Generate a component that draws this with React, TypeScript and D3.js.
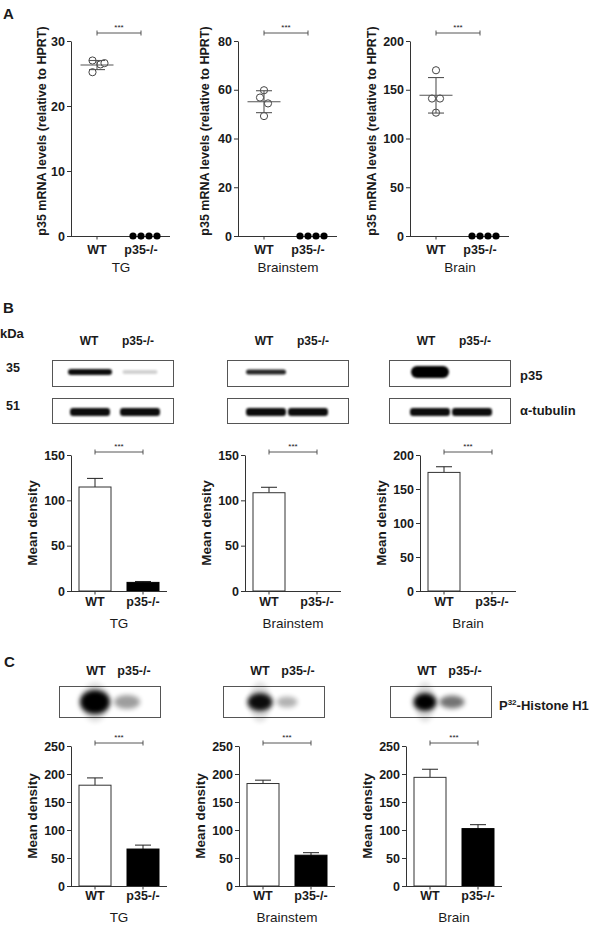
import React, { useEffect, useRef } from "react";
import * as d3 from "d3";

const groups = ["WT", "p35-/-"];
const tissues = ["TG", "Brainstem", "Brain"];

// Panel A: p35 mRNA (relative to HPRT), one value per animal
const mrnaWT = [
  [27.0, 26.4, 26.6, 25.2],
  [59.8, 56.8, 54.4, 49.2],
  [170, 141, 141, 126.5],
];
const mrnaKO = [
  [0, 0, 0, 0],
  [0, 0, 0, 0],
  [0, 0, 0, 0],
];
const mrnaMean = [26.3, 55.1, 144.3];
const mrnaSD = [0.7, 4.5, 18.2];
const mrnaMax = [30, 80, 200];
const mrnaTicks = [
  [0, 10, 20, 30],
  [0, 20, 40, 60, 80],
  [0, 50, 100, 150, 200],
];

// Panel B: p35 western blot densitometry (mean + SEM), [WT, p35-/-]
const p35Mean = [
  [114.7, 9.5],
  [108.4, 0],
  [174.4, 0],
];
const p35Err = [
  [9.5, 1],
  [6, 0],
  [8.3, 0],
];
const p35Max = [150, 150, 200];
const p35Ticks = [
  [0, 50, 100, 150],
  [0, 50, 100, 150],
  [0, 50, 100, 150, 200],
];

// Panel C: kinase assay densitometry (mean + SEM), [WT, p35-/-]
const kinaseMean = [
  [180, 66],
  [183, 55],
  [194, 102.5],
];
const kinaseErr = [
  [13, 7],
  [6, 4.5],
  [14.5, 7],
];
const kinaseMax = [250, 250, 250];
const kinaseTicks = [0, 50, 100, 150, 200, 250];

// blot band intensities (0..1), [WT, p35-/-]
const p35Band = [
  [0.95, 0.18],
  [0.85, 0],
  [1, 0],
];
const tubulinBand = [
  [1, 1],
  [1, 1],
  [1, 1],
];
const histoneSpot = [
  [1, 0.38],
  [0.95, 0.3],
  [1, 0.55],
];

const FONT = "'Liberation Sans', Arial, Helvetica, sans-serif";
const INK = "#1a1a1a";

function yAxis(svg: any, y: any, ticks: number[], x: number) {
  const ax = svg
    .append("g")
    .attr("transform", `translate(${x},0)`)
    .call(d3.axisLeft(y).tickValues(ticks).tickSize(4).tickPadding(2).tickSizeOuter(0).tickFormat(d3.format("d")));
  ax.attr("font-family", FONT).attr("font-size", 12.5).attr("font-weight", "bold");
  ax.selectAll("path,line").attr("stroke", "#333");
  ax.selectAll("text").attr("fill", INK);
}

function text(svg: any, x: number, y: number, s: string, size: number, bold = true, anchor = "middle") {
  return svg
    .append("text")
    .attr("x", x)
    .attr("y", y)
    .attr("text-anchor", anchor)
    .attr("font-family", FONT)
    .attr("font-size", size)
    .attr("font-weight", bold ? "bold" : "normal")
    .attr("fill", INK)
    .text(s);
}

function yLabel(svg: any, cx: number, cy: number, s: string, size: number) {
  svg
    .append("text")
    .attr("transform", `translate(${cx},${cy}) rotate(-90)`)
    .attr("dy", "0.35em")
    .attr("text-anchor", "middle")
    .attr("font-family", FONT)
    .attr("font-size", size)
    .attr("font-weight", "bold")
    .attr("fill", INK)
    .text(s);
}

function bracket(svg: any, x1: number, x2: number, y: number) {
  const g = svg.append("g").attr("stroke", "#444").attr("stroke-width", 0.9);
  g.append("line").attr("x1", x1).attr("x2", x2).attr("y1", y).attr("y2", y);
  g.append("line").attr("x1", x1).attr("x2", x1).attr("y1", y - 2.5).attr("y2", y + 2.5);
  g.append("line").attr("x1", x2).attr("x2", x2).attr("y1", y - 2.5).attr("y2", y + 2.5);
  text(svg, (x1 + x2) / 2, y - 3, "***", 8, false);
}

function barChart(
  svg: any,
  x0: number,
  yBottom: number,
  yTop: number,
  max: number,
  ticks: number[],
  means: number[],
  errs: number[],
  labelY: number,
  tissueY: number,
  tissue: string
) {
  const y = d3.scaleLinear().domain([0, max]).range([yBottom, yTop]);
  const x = d3.scaleBand().domain(groups).range([x0, x0 + 96]).paddingInner(1 / 3).paddingOuter(1 / 6);
  const bw = x.bandwidth();
  const rows = groups.map((g, i) => ({ g, v: means[i], e: errs[i] }));

  // error bars (upward only)
  rows.forEach((d) => {
    if (d.v <= 0) return;
    const cx = (x(d.g) as number) + bw / 2;
    svg.append("line").attr("x1", cx).attr("x2", cx).attr("y1", y(d.v)).attr("y2", y(d.v + d.e)).attr("stroke", "#222").attr("stroke-width", 1);
    svg.append("line").attr("x1", cx - 8).attr("x2", cx + 8).attr("y1", y(d.v + d.e)).attr("y2", y(d.v + d.e)).attr("stroke", "#222").attr("stroke-width", 1);
  });

  svg
    .selectAll(null)
    .data(rows.filter((d) => d.v > 0))
    .enter()
    .append("rect")
    .attr("x", (d: any) => x(d.g) as number)
    .attr("y", (d: any) => y(d.v))
    .attr("width", bw)
    .attr("height", (d: any) => y(0) - y(d.v))
    .attr("fill", (d: any) => (d.g === "WT" ? "#fff" : "#000"))
    .attr("stroke", (d: any) => (d.g === "WT" ? "#333" : "#000"))
    .attr("stroke-width", 1);

  yAxis(svg, y, ticks, x0);
  svg.append("line").attr("x1", x0).attr("x2", x0 + 96).attr("y1", y(0) + 0.5).attr("y2", y(0) + 0.5).attr("stroke", "#333");
  groups.forEach((g) => {
    const cx = (x(g) as number) + bw / 2;
    svg.append("line").attr("x1", cx).attr("x2", cx).attr("y1", y(0)).attr("y2", y(0) + 3.5).attr("stroke", "#333");
    text(svg, cx, labelY, g, 12.5);
  });
  bracket(svg, (x("WT") as number) + bw / 2, (x("p35-/-") as number) + bw / 2, yTop - 3);
  text(svg, x0 + 48, tissueY, tissue, 13.5, false);
  yLabel(svg, x0 - 39, (yBottom + yTop) / 2, "Mean density", 13.5);
}

function createFigure(node: SVGSVGElement) {
  const svg = d3.select(node);
  svg.selectAll("*").remove();

  const defs = svg.append("defs");
  defs.append("filter").attr("id", "band").attr("x", "-30%").attr("y", "-100%").attr("width", "160%").attr("height", "300%")
    .append("feGaussianBlur").attr("stdDeviation", 1.3);
  defs.append("filter").attr("id", "spot").attr("x", "-60%").attr("y", "-80%").attr("width", "220%").attr("height", "260%")
    .append("feGaussianBlur").attr("stdDeviation", 2.6);

  // ---------- Panel A ----------
  text(svg, 3, 19, "A", 15, true, "start");
  const aX0 = [71, 238, 410];
  const aLabelX = [42, 205, 372];
  const wtJitter = [
    [-4.5, 3.5, 7.5, -4.5],
    [0, -4, 4, 0],
    [0, -4, 4, 0],
  ];
  const koJitter = [-8, 0, 8, 16];
  tissues.forEach((tissue, i) => {
    const x0 = aX0[i];
    const y = d3.scaleLinear().domain([0, mrnaMax[i]]).range([236, 41]);
    const x = d3.scalePoint().domain(groups).range([x0 + 26, x0 + 70]);
    const wx = x("WT") as number;
    const kx = x("p35-/-") as number;

    svg.append("line").attr("x1", x0).attr("x2", x0 + 99).attr("y1", y(0) + 0.5).attr("y2", y(0) + 0.5).attr("stroke", "#333");
    groups.forEach((g) => {
      svg.append("line").attr("x1", x(g) as number).attr("x2", x(g) as number).attr("y1", y(0)).attr("y2", y(0) + 3.5).attr("stroke", "#333");
      text(svg, x(g) as number, 254, g, 12.5);
    });
    yAxis(svg, y, mrnaTicks[i], x0);

    svg
      .selectAll(null)
      .data(mrnaWT[i])
      .enter()
      .append("circle")
      .attr("cx", (_d: number, j: number) => wx + wtJitter[i][j])
      .attr("cy", (d: number) => y(d))
      .attr("r", 3.6)
      .attr("fill", "#fff")
      .attr("stroke", "#444")
      .attr("stroke-width", 1);

    svg
      .selectAll(null)
      .data(mrnaKO[i])
      .enter()
      .append("circle")
      .attr("cx", (_d: number, j: number) => kx + koJitter[j])
      .attr("cy", (d: number) => y(d))
      .attr("r", 3.6)
      .attr("fill", "#000");

    const m = mrnaMean[i];
    const sd = mrnaSD[i];
    const ln = svg.append("g").attr("stroke", "#555").attr("stroke-width", 1.1);
    ln.append("line").attr("x1", wx - 16.5).attr("x2", wx + 16.5).attr("y1", y(m)).attr("y2", y(m));
    ln.append("line").attr("x1", wx).attr("x2", wx).attr("y1", y(m - sd)).attr("y2", y(m + sd));
    ln.append("line").attr("x1", wx - 8).attr("x2", wx + 8).attr("y1", y(m + sd)).attr("y2", y(m + sd));
    ln.append("line").attr("x1", wx - 8).attr("x2", wx + 8).attr("y1", y(m - sd)).attr("y2", y(m - sd));

    bracket(svg, wx, kx, 33);
    text(svg, x0 + 50, 272, tissue, 13.5, false);
    yLabel(svg, aLabelX[i], 131, "p35 mRNA levels (relative to HPRT)", 12.5);
  });

  // ---------- Panel B: blots ----------
  text(svg, 3, 313, "B", 15, true, "start");
  text(svg, 0, 338, "kDa", 13, true, "start");
  text(svg, 6, 372, "35", 12.5, true, "start");
  text(svg, 6, 410, "51", 12.5, true, "start");
  text(svg, 520, 380, "p35", 13, true, "start");
  text(svg, 520, 415, "α-tubulin", 13, true, "start");

  const bBoxX = [52, 227, 389];
  const bLanes = [
    [38, 88],
    [39, 81],
    [41, 83],
  ];
  const p35BandW = [
    [44, 35],
    [40, 34],
    [38, 36],
  ];
  const p35BandH = [
    [6, 4],
    [5, 4],
    [12, 6],
  ];
  tissues.forEach((_t, i) => {
    const bx = bBoxX[i];
    const lane = d3.scalePoint().domain(groups).range([bx + bLanes[i][0], bx + bLanes[i][1]]);
    const head = d3.scalePoint().domain(groups).range([bx + 37, bx + 86]);
    groups.forEach((g) => text(svg, head(g) as number, 345, g, 12));

    svg.append("rect").attr("x", bx + 0.5).attr("y", 360.5).attr("width", 121).attr("height", 26).attr("fill", "#fff").attr("stroke", "#555");
    svg.append("rect").attr("x", bx + 0.5).attr("y", 398.5).attr("width", 121).attr("height", 25).attr("fill", "#fff").attr("stroke", "#555");

    groups.forEach((g, j) => {
      const a = p35Band[i][j];
      if (a > 0) {
        const w = p35BandW[i][j];
        const h = p35BandH[i][j];
        svg.append("rect")
          .attr("x", (lane(g) as number) - w / 2)
          .attr("y", 372 - h / 2)
          .attr("width", w)
          .attr("height", h)
          .attr("rx", h / 2)
          .attr("fill", "#000")
          .attr("opacity", a)
          .attr("filter", "url(#band)");
      }
      const t = tubulinBand[i][j];
      svg.append("rect")
        .attr("x", (lane(g) as number) - 20)
        .attr("y", 412 - 4)
        .attr("width", 40)
        .attr("height", 8)
        .attr("rx", 3)
        .attr("fill", "#000")
        .attr("opacity", t * 0.95)
        .attr("filter", "url(#band)");
    });
  });

  // ---------- Panel B: bars ----------
  const bX0 = [71, 245, 420];
  tissues.forEach((tissue, i) => {
    barChart(svg, bX0[i], 591, 455, p35Max[i], p35Ticks[i], p35Mean[i], p35Err[i], 606, 628, tissue);
  });

  // ---------- Panel C: kinase blots ----------
  text(svg, 4, 667, "C", 15, true, "start");
  const cBoxX = [59, 223, 390];
  const cLanes = [
    [36, 68],
    [37, 64],
    [35, 62],
  ];
  const spotW = [
    [30, 26],
    [25, 21],
    [23, 25],
  ];
  const spotH = [
    [24, 14],
    [18, 11],
    [18, 13],
  ];
  tissues.forEach((_t, i) => {
    const bx = cBoxX[i];
    const lane = d3.scalePoint().domain(groups).range([bx + cLanes[i][0], bx + cLanes[i][1]]);
    const head = d3.scalePoint().domain(groups).range([bx + 37, bx + 75]);
    groups.forEach((g) => text(svg, head(g) as number, 675, g, 12.5));
    svg.append("rect").attr("x", bx + 0.5).attr("y", 686.5).attr("width", 101).attr("height", 31).attr("fill", "#fff").attr("stroke", "#555");
    groups.forEach((g, j) => {
      const cx = lane(g) as number;
      if (g === "WT") {
        svg.append("ellipse").attr("cx", cx).attr("cy", 702).attr("rx", spotW[i][j] / 2 - 2).attr("ry", 20)
          .attr("fill", "#000").attr("opacity", 0.12).attr("filter", "url(#spot)");
      }
      svg.append("ellipse")
        .attr("cx", cx)
        .attr("cy", 702)
        .attr("rx", spotW[i][j] / 2)
        .attr("ry", spotH[i][j] / 2)
        .attr("fill", "#000")
        .attr("opacity", histoneSpot[i][j])
        .attr("filter", "url(#spot)");
    });
  });
  const lbl = text(svg, 499, 710, "P", 13, true, "start");
  lbl.append("tspan").attr("font-size", 8).attr("dy", -5).text("32");
  lbl.append("tspan").attr("dy", 5).text("-Histone H1");

  // ---------- Panel C: bars ----------
  const cX0 = [71, 239, 406];
  tissues.forEach((tissue, i) => {
    barChart(svg, cX0[i], 886, 746, kinaseMax[i], kinaseTicks, kinaseMean[i], kinaseErr[i], 900, 922, tissue);
  });
}

export default function App() {
  const ref = useRef<SVGSVGElement>(null);
  useEffect(() => {
    if (ref.current) createFigure(ref.current);
  }, []);
  return (
    <svg
      ref={ref}
      width={600}
      height={926}
      style={{ position: "absolute", left: 0, top: 0, background: "#fff", display: "block" }}
    />
  );
}
